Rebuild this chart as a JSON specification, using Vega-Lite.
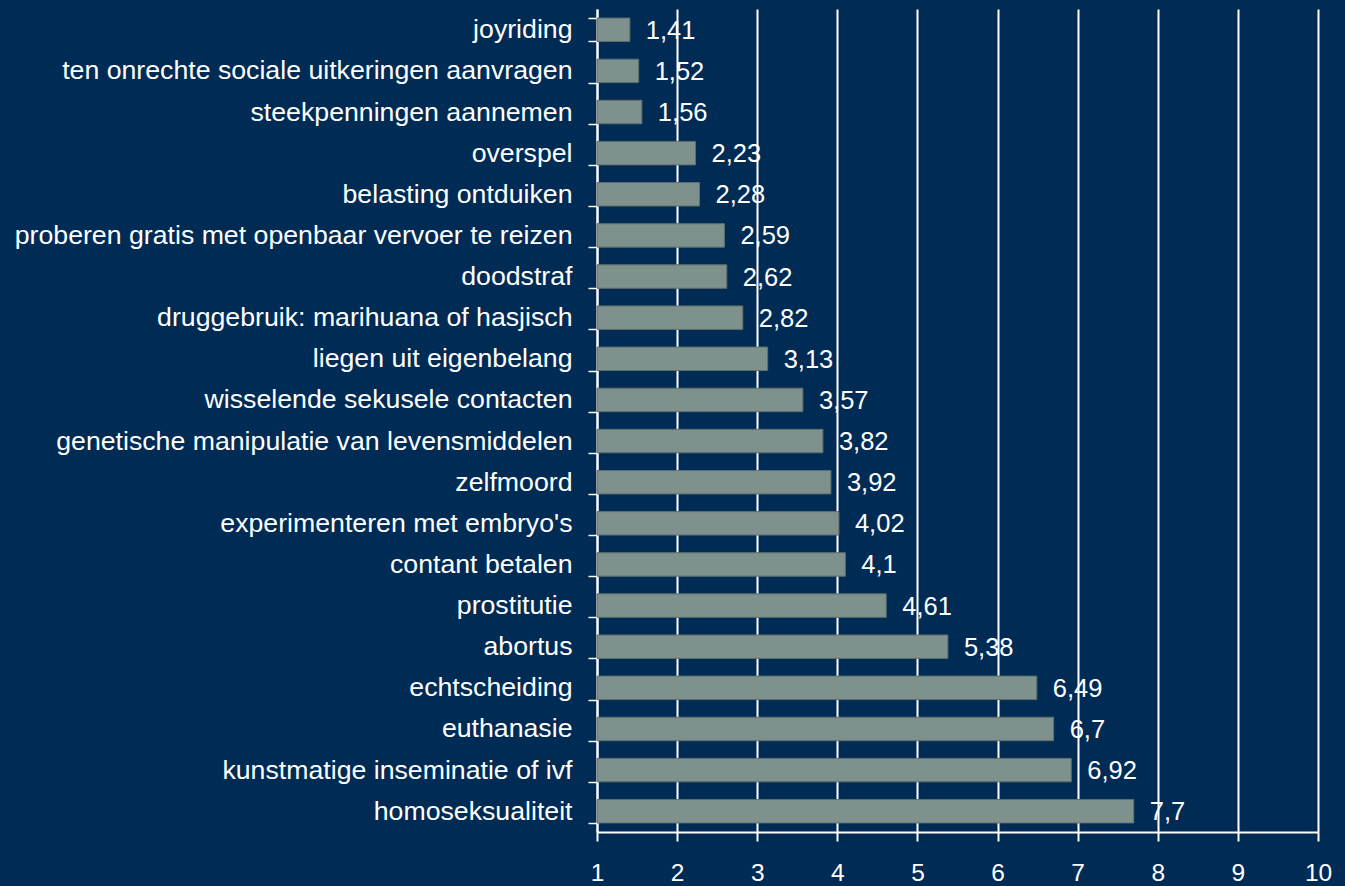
{
  "$schema": "https://vega.github.io/schema/vega-lite/v6.json",
  "width": 721,
  "height": 823,
  "autosize": {"type": "none"},
  "padding": {"left": 597, "top": 9, "right": 27, "bottom": 54},
  "background": "#002B55",
  "config": {
    "view": {"stroke": null},
    "font": "Liberation Sans",
    "locale": {"number": {"decimal": ",", "thousands": ".", "grouping": [3], "currency": ["€", ""]}}
  },
  "data": {
    "values": [
      {"item": "joyriding", "score": 1.41},
      {"item": "ten onrechte sociale uitkeringen aanvragen", "score": 1.52},
      {"item": "steekpenningen aannemen", "score": 1.56},
      {"item": "overspel", "score": 2.23},
      {"item": "belasting ontduiken", "score": 2.28},
      {"item": "proberen gratis met openbaar vervoer te reizen", "score": 2.59},
      {"item": "doodstraf", "score": 2.62},
      {"item": "druggebruik: marihuana of hasjisch", "score": 2.82},
      {"item": "liegen uit eigenbelang", "score": 3.13},
      {"item": "wisselende sekusele contacten", "score": 3.57},
      {"item": "genetische manipulatie van levensmiddelen", "score": 3.82},
      {"item": "zelfmoord", "score": 3.92},
      {"item": "experimenteren met embryo's", "score": 4.02},
      {"item": "contant betalen", "score": 4.1},
      {"item": "prostitutie", "score": 4.61},
      {"item": "abortus", "score": 5.38},
      {"item": "echtscheiding", "score": 6.49},
      {"item": "euthanasie", "score": 6.7},
      {"item": "kunstmatige inseminatie of ivf", "score": 6.92},
      {"item": "homoseksualiteit", "score": 7.7}
    ]
  },
  "encoding": {
    "y": {
      "field": "item",
      "type": "nominal",
      "sort": null,
      "scale": {"paddingInner": 0.43, "paddingOuter": 0.22},
      "axis": {
        "title": null,
        "tickBand": "extent",
        "tickSize": 9,
        "tickColor": "white",
        "tickWidth": 1.5,
        "domainColor": "white",
        "domainWidth": 2,
        "labelColor": "white",
        "labelFontSize": 26.7,
        "labelPadding": 16,
        "labelLimit": 700,
        "grid": false
      }
    }
  },
  "layer": [
    {
      "mark": {"type": "bar", "color": "#7F918D", "stroke": "#5E706D", "strokeWidth": 1},
      "encoding": {
        "x": {
          "field": "score",
          "type": "quantitative",
          "scale": {"domain": [1, 10], "zero": false, "nice": false},
          "axis": {
            "title": null,
            "values": [1, 2, 3, 4, 5, 6, 7, 8, 9, 10],
            "format": "d",
            "grid": true,
            "gridColor": "white",
            "gridWidth": 2,
            "gridOpacity": 1,
            "domainColor": "white",
            "domainWidth": 2,
            "tickColor": "white",
            "tickWidth": 2,
            "tickSize": 9,
            "labelColor": "white",
            "labelFontSize": 24.5,
            "labelPadding": 20,
            "labelFlush": false
          }
        },
        "x2": {"datum": 1}
      }
    },
    {
      "mark": {"type": "text", "align": "left", "baseline": "middle", "dx": 16, "dy": 1, "color": "white", "fontSize": 25.5},
      "encoding": {
        "x": {"field": "score", "type": "quantitative"},
        "text": {"field": "score", "type": "quantitative", "format": "~r"}
      }
    }
  ]
}
